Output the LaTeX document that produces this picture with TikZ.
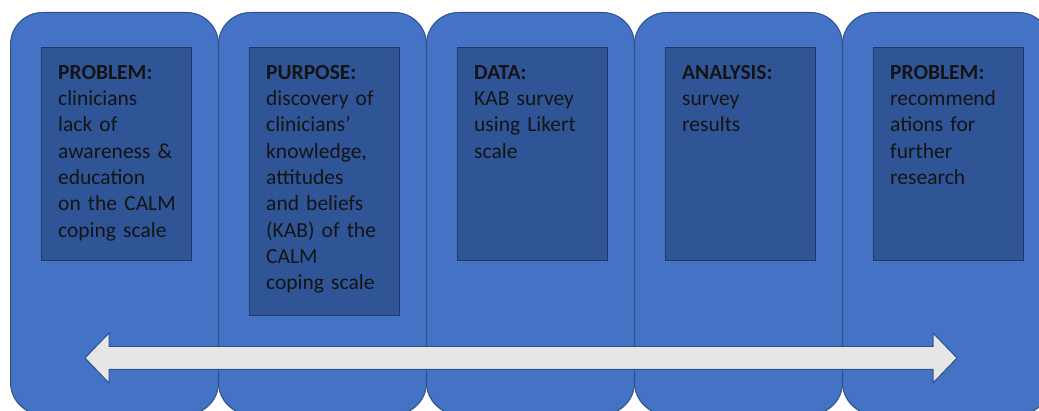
\documentclass[tikz,border=0pt]{standalone}
\usepackage{fontspec}
\setmainfont{Carlito}

\definecolor{panelblue}{HTML}{4472C4}
\definecolor{paneledge}{HTML}{2F528F}
\definecolor{boxblue}{HTML}{2F5597}
\definecolor{boxedge}{HTML}{203864}
\definecolor{arrowgray}{HTML}{E7E6E6}

\tikzset{
    panel/.style={draw=paneledge, line width=1pt, fill=panelblue, rounded corners=32pt,
        anchor=north west, minimum width=208pt, minimum height=402pt, inner sep=0pt},
    stagebox/.style={draw=boxedge, line width=0.8pt, fill=boxblue, anchor=north west,
        minimum width=150pt, inner sep=0pt},
    stagetext/.style={anchor=north west, align=left, text width=128pt, inner sep=0pt,
        font=\fontsize{21.5}{26.3}\selectfont, text=black!92},
    arrowbody/.style={draw=paneledge, line width=1pt, fill=arrowgray, line join=miter},
}

\begin{document}
\begin{tikzpicture}[x=1pt, y=-1pt]
    \useasboundingbox (0,0) rectangle (1039,411);

    \node[panel] (p1) at (10, 12) {};
    \node[panel] (p2) at (218, 12) {};
    \node[panel] (p3) at (426, 12) {};
    \node[panel] (p4) at (634, 12) {};
    \node[panel] (p5) at (842, 12) {};

    \node[stagebox, minimum height=213pt] (b1) at (41, 47) {};
    \node[stagebox, minimum height=268pt] (b2) at (249, 47) {};
    \node[stagebox, minimum height=213pt] (b3) at (457, 47) {};
    \node[stagebox, minimum height=213pt] (b4) at (665, 47) {};
    \node[stagebox, minimum height=213pt] (b5) at (873, 47) {};

    \node[stagetext] (t1) at ([xshift=17pt, yshift=-18pt]b1.north west)
        {\textbf{PROBLEM:}\\ clinicians\\ lack of\\ awareness \&\\ education\\ on the CALM\\ coping scale};
    \node[stagetext] (t2) at ([xshift=17pt, yshift=-18pt]b2.north west)
        {\textbf{PURPOSE:}\\ discovery of\\ clinicians’\\ knowledge,\\ attitudes\\ and beliefs\\ (KAB) of the\\ CALM\\ coping scale};
    \node[stagetext] (t3) at ([xshift=17pt, yshift=-18pt]b3.north west)
        {\textbf{DATA:}\\ KAB survey\\ using Likert\\ scale};
    \node[stagetext] (t4) at ([xshift=17pt, yshift=-18pt]b4.north west)
        {\textbf{ANALYSIS:}\\ survey\\ results};
    \node[stagetext] (t5) at ([xshift=17pt, yshift=-18pt]b5.north west)
        {\textbf{PROBLEM:}\\ recommend\\ ations for\\ further\\ research};

    % two-way arrow along the bottom
    \coordinate (aL) at (85, 358);
    \coordinate (aR) at (957, 358);
    \draw[arrowbody] (aL) -- (109, 333) -- (109, 346.5) -- (933, 346.5) -- (933, 333)
        -- (aR) -- (933, 383) -- (933, 369.5) -- (109, 369.5) -- (109, 383) -- cycle;
\end{tikzpicture}
\end{document}
